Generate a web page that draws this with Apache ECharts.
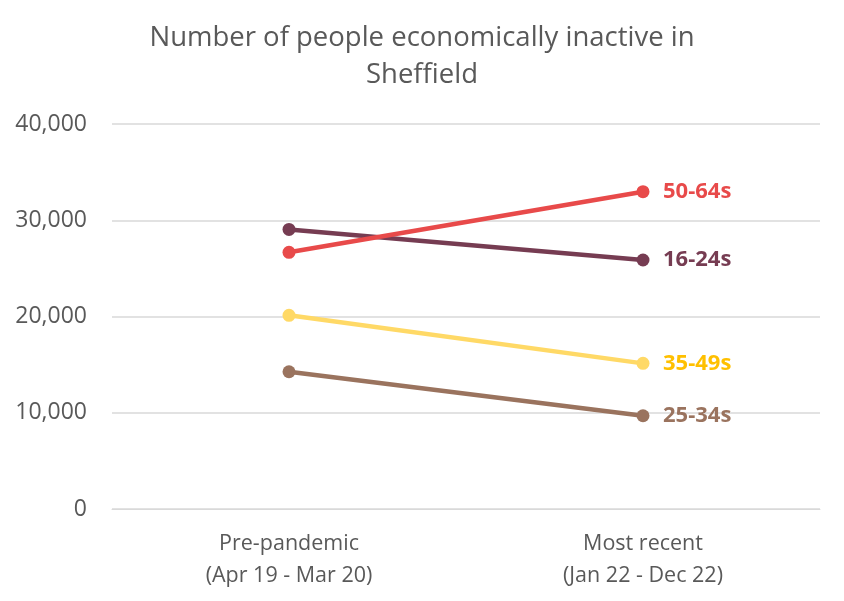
<!DOCTYPE html>
<html><head><meta charset="utf-8">
<script src="https://cdn.jsdelivr.net/npm/echarts@6/dist/echarts.min.js"></script>
<style>html,body{margin:0;padding:0;background:#fff}#c{width:844px;height:601px}</style>
</head><body><div id="c"></div>
<script>
const categories = ['Pre-pandemic\n(Apr 19 - Mar 20)', 'Most recent\n(Jan 22 - Dec 22)'];
const seriesNames = ['16-24s', '25-34s', '35-49s', '50-64s'];
const v1624 = [29050, 25870];
const v2534 = [14260, 9690];
const v3549 = [20120, 15130];
const v5064 = [26670, 32970];
const yTicks = [0, 10000, 20000, 30000, 40000];

const lineColors = ['#763C52', '#9A735E', '#FFD966', '#E84A4A'];
const labelColors = ['#763C52', '#9A735E', '#FFC000', '#E84A4A'];
const values = [v1624, v2534, v3549, v5064];

const font = '"Open Sans", "Noto Sans", sans-serif';
const chart = echarts.init(document.getElementById('c'));
chart.setOption({
  animation: false,
  title: {
    text: 'Number of people economically inactive in\nSheffield',
    left: 'center', top: 15,
    textStyle: { fontFamily: font, fontSize: 27.5, fontWeight: 'normal', color: '#595959', lineHeight: 37 }
  },
  grid: { left: 112, right: 24, top: 124, bottom: 92, containLabel: false },
  xAxis: {
    type: 'category', data: categories, boundaryGap: true,
    axisLine: { lineStyle: { color: '#D9D9D9', width: 1 } },
    axisTick: { show: false },
    axisLabel: { fontFamily: font, fontSize: 21.5, color: '#595959', lineHeight: 32, margin: 19 }
  },
  yAxis: {
    type: 'value', min: yTicks[0], max: yTicks[yTicks.length - 1], interval: 10000,
    axisLine: { show: false }, axisTick: { show: false },
    splitLine: { lineStyle: { color: '#D9D9D9', width: 1.5 } },
    axisLabel: { fontFamily: font, fontSize: 23, color: '#595959', margin: 25,
      formatter: v => v.toLocaleString('en-US') }
  },
  series: seriesNames.map((n, i) => ({
    name: n, type: 'line', data: values[i],
    symbol: 'circle', symbolSize: 13,
    lineStyle: { color: lineColors[i], width: 4.5 },
    itemStyle: { color: lineColors[i] },
    endLabel: { show: true, formatter: n, distance: 20, color: labelColors[i],
      fontFamily: font, fontSize: 22, fontWeight: 'bold' }
  }))
});
</script></body></html>
